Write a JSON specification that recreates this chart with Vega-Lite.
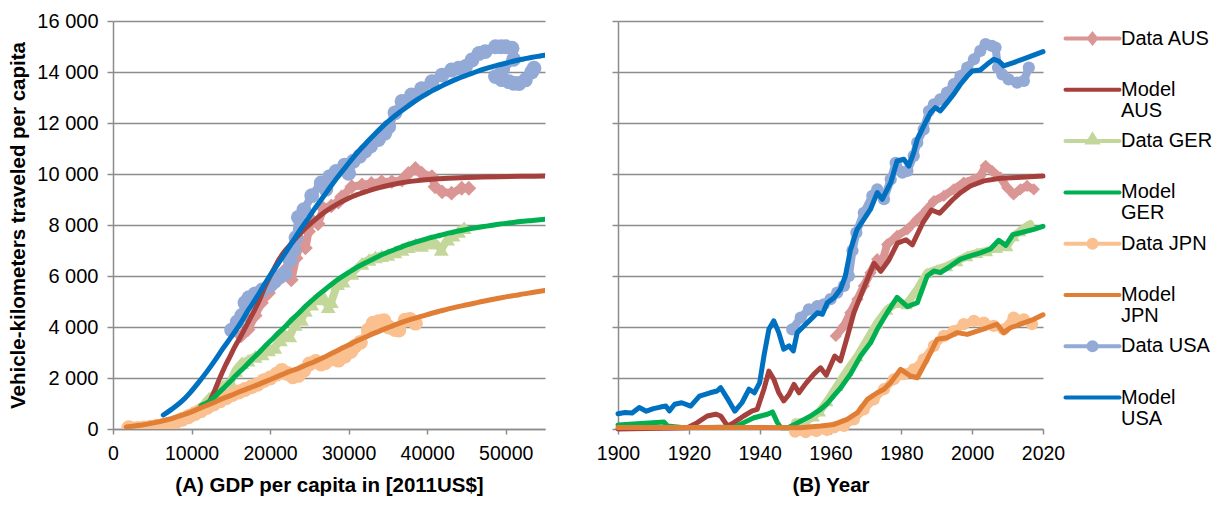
{
  "$schema": "https://vega.github.io/schema/vega-lite/v6.json",
  "padding": {"left": 8, "top": 11, "right": 5, "bottom": 5},
  "config": {
    "view": {"stroke": null},
    "font": "Liberation Sans",
    "axis": {
      "labelFont": "Liberation Sans", "titleFont": "Liberation Sans",
      "labelColor": "#000000", "titleColor": "#000000",
      "domainColor": "#8C8C8C", "domainWidth": 1.5,
      "tickColor": "#8C8C8C", "tickWidth": 1.5,
      "gridColor": "#8C8C8C", "gridWidth": 1.5, "gridOpacity": 1,
      "labelFontSize": 20, "titleFontSize": 20.5, "titleFontWeight": "bold"
    },
    "legend": {
      "title": null, "orient": "right", "offset": 10, "padding": 2,
      "labelFont": "Liberation Sans", "labelFontSize": 20, "labelColor": "#000000",
      "symbolSize": 729, "symbolStrokeWidth": 4, "labelOffset": 13, "rowPadding": 4.3, "labelLimit": 300
    }
  },
  "datasets": {
    "aData": [
      {"s":"Data AUS","i":1,"x":16300,"y":3650},{"s":"Data AUS","i":2,"x":17200,"y":3900},{"s":"Data AUS","i":3,"x":18100,"y":4450},{"s":"Data AUS","i":4,"x":18900,"y":4950},{"s":"Data AUS","i":5,"x":19800,"y":5330},{"s":"Data AUS","i":6,"x":20600,"y":5700},{"s":"Data AUS","i":7,"x":21300,"y":6000},{"s":"Data AUS","i":8,"x":21900,"y":6250},{"s":"Data AUS","i":9,"x":22700,"y":5850},{"s":"Data AUS","i":10,"x":23300,"y":6700},{"s":"Data AUS","i":11,"x":23700,"y":7150},{"s":"Data AUS","i":12,"x":24200,"y":7300},{"s":"Data AUS","i":13,"x":24500,"y":7100},{"s":"Data AUS","i":14,"x":24900,"y":7750},{"s":"Data AUS","i":15,"x":25300,"y":8200},{"s":"Data AUS","i":16,"x":26100,"y":8050},{"s":"Data AUS","i":17,"x":26800,"y":8650},{"s":"Data AUS","i":18,"x":27800,"y":8750},{"s":"Data AUS","i":19,"x":28700,"y":8900},{"s":"Data AUS","i":20,"x":29100,"y":9100},{"s":"Data AUS","i":21,"x":30400,"y":9500},{"s":"Data AUS","i":22,"x":31700,"y":9570},{"s":"Data AUS","i":23,"x":32900,"y":9630},{"s":"Data AUS","i":24,"x":34200,"y":9700},{"s":"Data AUS","i":25,"x":35500,"y":9700},{"s":"Data AUS","i":26,"x":36800,"y":9760},{"s":"Data AUS","i":27,"x":37600,"y":10020},{"s":"Data AUS","i":28,"x":38500,"y":10220},{"s":"Data AUS","i":29,"x":39300,"y":10030},{"s":"Data AUS","i":30,"x":40600,"y":9900},{"s":"Data AUS","i":31,"x":41000,"y":9500},{"s":"Data AUS","i":32,"x":41900,"y":9300},{"s":"Data AUS","i":33,"x":43100,"y":9250},{"s":"Data AUS","i":34,"x":44400,"y":9440},{"s":"Data AUS","i":35,"x":45300,"y":9440},
      {"s":"Data GER","i":1,"x":8500,"y":400},{"s":"Data GER","i":2,"x":9500,"y":550},{"s":"Data GER","i":3,"x":10500,"y":700},{"s":"Data GER","i":4,"x":11500,"y":950},{"s":"Data GER","i":5,"x":12200,"y":1200},{"s":"Data GER","i":6,"x":13000,"y":1400},{"s":"Data GER","i":7,"x":14000,"y":1700},{"s":"Data GER","i":8,"x":15000,"y":1850},{"s":"Data GER","i":9,"x":15600,"y":2300},{"s":"Data GER","i":10,"x":16400,"y":2600},{"s":"Data GER","i":11,"x":17200,"y":2700},{"s":"Data GER","i":12,"x":18100,"y":2850},{"s":"Data GER","i":13,"x":19000,"y":2950},{"s":"Data GER","i":14,"x":19800,"y":3100},{"s":"Data GER","i":15,"x":20600,"y":3200},{"s":"Data GER","i":16,"x":21300,"y":3500},{"s":"Data GER","i":17,"x":21900,"y":3700},{"s":"Data GER","i":18,"x":22500,"y":3650},{"s":"Data GER","i":19,"x":23200,"y":4100},{"s":"Data GER","i":20,"x":24000,"y":4300},{"s":"Data GER","i":21,"x":24500,"y":4650},{"s":"Data GER","i":22,"x":25300,"y":4900},{"s":"Data GER","i":23,"x":26100,"y":5100},{"s":"Data GER","i":24,"x":26700,"y":5200},{"s":"Data GER","i":25,"x":27400,"y":4800},{"s":"Data GER","i":26,"x":27800,"y":5000},{"s":"Data GER","i":27,"x":28600,"y":5700},{"s":"Data GER","i":28,"x":29300,"y":5800},{"s":"Data GER","i":29,"x":30400,"y":6100},{"s":"Data GER","i":30,"x":31700,"y":6500},{"s":"Data GER","i":31,"x":32600,"y":6650},{"s":"Data GER","i":32,"x":33400,"y":6750},{"s":"Data GER","i":33,"x":34200,"y":6800},{"s":"Data GER","i":34,"x":35000,"y":6850},{"s":"Data GER","i":35,"x":35900,"y":6950},{"s":"Data GER","i":36,"x":36800,"y":7050},{"s":"Data GER","i":37,"x":37600,"y":7150},{"s":"Data GER","i":38,"x":38500,"y":7250},{"s":"Data GER","i":39,"x":39300,"y":7200},{"s":"Data GER","i":40,"x":40100,"y":7300},{"s":"Data GER","i":41,"x":41000,"y":7300},{"s":"Data GER","i":42,"x":41800,"y":7050},{"s":"Data GER","i":43,"x":42600,"y":7450},{"s":"Data GER","i":44,"x":43300,"y":7600},{"s":"Data GER","i":45,"x":44000,"y":7750},{"s":"Data GER","i":46,"x":44700,"y":7900},
      {"s":"Data JPN","i":1,"x":2000,"y":50},{"s":"Data JPN","i":2,"x":2600,"y":0},{"s":"Data JPN","i":3,"x":3200,"y":20},{"s":"Data JPN","i":4,"x":4000,"y":40},{"s":"Data JPN","i":5,"x":4800,"y":70},{"s":"Data JPN","i":6,"x":5600,"y":110},{"s":"Data JPN","i":7,"x":6400,"y":150},{"s":"Data JPN","i":8,"x":7200,"y":200},{"s":"Data JPN","i":9,"x":8000,"y":280},{"s":"Data JPN","i":10,"x":8800,"y":380},{"s":"Data JPN","i":11,"x":9600,"y":480},{"s":"Data JPN","i":12,"x":10400,"y":600},{"s":"Data JPN","i":13,"x":11200,"y":720},{"s":"Data JPN","i":14,"x":12000,"y":850},{"s":"Data JPN","i":15,"x":12800,"y":980},{"s":"Data JPN","i":16,"x":13600,"y":1100},{"s":"Data JPN","i":17,"x":14400,"y":1230},{"s":"Data JPN","i":18,"x":15200,"y":1350},{"s":"Data JPN","i":19,"x":16000,"y":1450},{"s":"Data JPN","i":20,"x":16800,"y":1550},{"s":"Data JPN","i":21,"x":17600,"y":1650},{"s":"Data JPN","i":22,"x":18400,"y":1750},{"s":"Data JPN","i":23,"x":19200,"y":1900},{"s":"Data JPN","i":24,"x":20000,"y":2000},{"s":"Data JPN","i":25,"x":20800,"y":2150},{"s":"Data JPN","i":26,"x":21500,"y":2300},{"s":"Data JPN","i":27,"x":22200,"y":2180},{"s":"Data JPN","i":28,"x":22900,"y":2050},{"s":"Data JPN","i":29,"x":23600,"y":2100},{"s":"Data JPN","i":30,"x":24300,"y":2300},{"s":"Data JPN","i":31,"x":25000,"y":2550},{"s":"Data JPN","i":32,"x":25800,"y":2650},{"s":"Data JPN","i":33,"x":26500,"y":2550},{"s":"Data JPN","i":34,"x":27000,"y":2600},{"s":"Data JPN","i":35,"x":28000,"y":2750},{"s":"Data JPN","i":36,"x":28700,"y":2700},{"s":"Data JPN","i":37,"x":29500,"y":2850},{"s":"Data JPN","i":38,"x":30300,"y":3050},{"s":"Data JPN","i":39,"x":30800,"y":3250},{"s":"Data JPN","i":40,"x":31500,"y":3400},{"s":"Data JPN","i":41,"x":32500,"y":3880},{"s":"Data JPN","i":42,"x":33100,"y":4150},{"s":"Data JPN","i":43,"x":33800,"y":4210},{"s":"Data JPN","i":44,"x":34500,"y":4250},{"s":"Data JPN","i":45,"x":35100,"y":4000},{"s":"Data JPN","i":46,"x":35900,"y":3900},{"s":"Data JPN","i":47,"x":36400,"y":3880},{"s":"Data JPN","i":48,"x":37200,"y":4270},{"s":"Data JPN","i":49,"x":37800,"y":4300},{"s":"Data JPN","i":50,"x":38500,"y":4150},
      {"s":"Data USA","i":1,"x":15100,"y":3880},{"s":"Data USA","i":2,"x":15800,"y":4200},{"s":"Data USA","i":3,"x":16400,"y":4450},{"s":"Data USA","i":4,"x":16800,"y":4950},{"s":"Data USA","i":5,"x":17300,"y":5150},{"s":"Data USA","i":6,"x":18100,"y":5300},{"s":"Data USA","i":7,"x":19000,"y":5450},{"s":"Data USA","i":8,"x":19900,"y":5600},{"s":"Data USA","i":9,"x":20600,"y":5800},{"s":"Data USA","i":10,"x":21260,"y":5970},{"s":"Data USA","i":11,"x":21900,"y":6100},{"s":"Data USA","i":12,"x":22540,"y":6630},{"s":"Data USA","i":13,"x":23000,"y":7050},{"s":"Data USA","i":14,"x":23300,"y":7500},{"s":"Data USA","i":15,"x":23600,"y":8300},{"s":"Data USA","i":16,"x":24300,"y":8600},{"s":"Data USA","i":17,"x":25300,"y":9150},{"s":"Data USA","i":18,"x":26500,"y":9650},{"s":"Data USA","i":19,"x":27100,"y":9400},{"s":"Data USA","i":20,"x":27600,"y":9900},{"s":"Data USA","i":21,"x":28400,"y":10100},{"s":"Data USA","i":22,"x":29500,"y":10350},{"s":"Data USA","i":23,"x":30000,"y":10030},{"s":"Data USA","i":24,"x":30600,"y":10500},{"s":"Data USA","i":25,"x":31400,"y":10700},{"s":"Data USA","i":26,"x":32100,"y":10900},{"s":"Data USA","i":27,"x":32800,"y":11100},{"s":"Data USA","i":28,"x":33800,"y":11350},{"s":"Data USA","i":29,"x":34600,"y":11600},{"s":"Data USA","i":30,"x":35100,"y":11850},{"s":"Data USA","i":31,"x":35900,"y":12400},{"s":"Data USA","i":32,"x":36800,"y":12850},{"s":"Data USA","i":33,"x":38000,"y":13100},{"s":"Data USA","i":34,"x":39300,"y":13350},{"s":"Data USA","i":35,"x":40600,"y":13620},{"s":"Data USA","i":36,"x":41900,"y":13880},{"s":"Data USA","i":37,"x":43100,"y":14080},{"s":"Data USA","i":38,"x":44000,"y":14150},{"s":"Data USA","i":39,"x":44900,"y":14220},{"s":"Data USA","i":40,"x":45700,"y":14470},{"s":"Data USA","i":41,"x":46600,"y":14730},{"s":"Data USA","i":42,"x":47400,"y":14800},{"s":"Data USA","i":43,"x":48700,"y":14990},{"s":"Data USA","i":44,"x":49400,"y":14990},{"s":"Data USA","i":45,"x":50000,"y":14990},{"s":"Data USA","i":46,"x":50800,"y":14930},{"s":"Data USA","i":47,"x":51000,"y":14500},{"s":"Data USA","i":48,"x":49600,"y":14100},{"s":"Data USA","i":49,"x":48700,"y":13820},{"s":"Data USA","i":50,"x":49500,"y":13700},{"s":"Data USA","i":51,"x":50400,"y":13620},{"s":"Data USA","i":52,"x":51000,"y":13560},{"s":"Data USA","i":53,"x":51700,"y":13550},{"s":"Data USA","i":54,"x":52500,"y":13690},{"s":"Data USA","i":55,"x":53300,"y":14000},{"s":"Data USA","i":56,"x":53600,"y":14150}
    ],
    "aModel": [
      {"s":"Model AUS","x":12200,"y":1000},{"s":"Model AUS","x":12600,"y":1280},{"s":"Model AUS","x":13000,"y":1550},{"s":"Model AUS","x":13600,"y":2000},{"s":"Model AUS","x":14250,"y":2450},{"s":"Model AUS","x":14900,"y":2850},{"s":"Model AUS","x":15500,"y":3220},{"s":"Model AUS","x":16200,"y":3600},{"s":"Model AUS","x":16800,"y":3950},{"s":"Model AUS","x":17400,"y":4300},{"s":"Model AUS","x":18000,"y":4650},{"s":"Model AUS","x":18700,"y":5100},{"s":"Model AUS","x":19300,"y":5550},{"s":"Model AUS","x":20000,"y":6000},{"s":"Model AUS","x":20600,"y":6350},{"s":"Model AUS","x":21200,"y":6680},{"s":"Model AUS","x":21800,"y":6950},{"s":"Model AUS","x":22500,"y":7200},{"s":"Model AUS","x":23100,"y":7420},{"s":"Model AUS","x":23800,"y":7650},{"s":"Model AUS","x":24500,"y":7870},{"s":"Model AUS","x":25700,"y":8200},{"s":"Model AUS","x":27000,"y":8520},{"s":"Model AUS","x":28600,"y":8830},{"s":"Model AUS","x":30000,"y":9050},{"s":"Model AUS","x":31000,"y":9180},{"s":"Model AUS","x":32100,"y":9300},{"s":"Model AUS","x":33100,"y":9400},{"s":"Model AUS","x":34200,"y":9490},{"s":"Model AUS","x":35300,"y":9570},{"s":"Model AUS","x":36400,"y":9640},{"s":"Model AUS","x":38500,"y":9730},{"s":"Model AUS","x":40600,"y":9790},{"s":"Model AUS","x":42700,"y":9830},{"s":"Model AUS","x":44900,"y":9860},{"s":"Model AUS","x":47000,"y":9880},{"s":"Model AUS","x":49100,"y":9895},{"s":"Model AUS","x":52000,"y":9910},{"s":"Model AUS","x":55000,"y":9920},
      {"s":"Model GER","x":11200,"y":920},{"s":"Model GER","x":11800,"y":1000},{"s":"Model GER","x":12500,"y":1140},{"s":"Model GER","x":13400,"y":1400},{"s":"Model GER","x":14250,"y":1660},{"s":"Model GER","x":15100,"y":1920},{"s":"Model GER","x":15900,"y":2180},{"s":"Model GER","x":16800,"y":2440},{"s":"Model GER","x":17600,"y":2700},{"s":"Model GER","x":18500,"y":2970},{"s":"Model GER","x":19300,"y":3230},{"s":"Model GER","x":20200,"y":3500},{"s":"Model GER","x":21000,"y":3750},{"s":"Model GER","x":21900,"y":4010},{"s":"Model GER","x":22700,"y":4270},{"s":"Model GER","x":23600,"y":4530},{"s":"Model GER","x":24400,"y":4780},{"s":"Model GER","x":25300,"y":5030},{"s":"Model GER","x":26100,"y":5250},{"s":"Model GER","x":27000,"y":5470},{"s":"Model GER","x":27800,"y":5670},{"s":"Model GER","x":28900,"y":5920},{"s":"Model GER","x":30000,"y":6140},{"s":"Model GER","x":31000,"y":6330},{"s":"Model GER","x":32100,"y":6510},{"s":"Model GER","x":33200,"y":6680},{"s":"Model GER","x":34200,"y":6830},{"s":"Model GER","x":35300,"y":6970},{"s":"Model GER","x":36400,"y":7100},{"s":"Model GER","x":37400,"y":7220},{"s":"Model GER","x":38500,"y":7330},{"s":"Model GER","x":39600,"y":7430},{"s":"Model GER","x":40600,"y":7520},{"s":"Model GER","x":41700,"y":7600},{"s":"Model GER","x":42700,"y":7680},{"s":"Model GER","x":43800,"y":7750},{"s":"Model GER","x":44900,"y":7820},{"s":"Model GER","x":46000,"y":7880},{"s":"Model GER","x":47000,"y":7930},{"s":"Model GER","x":48100,"y":7980},{"s":"Model GER","x":49100,"y":8030},{"s":"Model GER","x":50200,"y":8070},{"s":"Model GER","x":51200,"y":8110},{"s":"Model GER","x":52300,"y":8150},{"s":"Model GER","x":53400,"y":8180},{"s":"Model GER","x":55000,"y":8230},
      {"s":"Model JPN","x":1700,"y":80},{"s":"Model JPN","x":2500,"y":110},{"s":"Model JPN","x":3500,"y":150},{"s":"Model JPN","x":4500,"y":200},{"s":"Model JPN","x":5500,"y":260},{"s":"Model JPN","x":6600,"y":340},{"s":"Model JPN","x":7600,"y":420},{"s":"Model JPN","x":8700,"y":530},{"s":"Model JPN","x":9800,"y":650},{"s":"Model JPN","x":10800,"y":780},{"s":"Model JPN","x":11900,"y":920},{"s":"Model JPN","x":13000,"y":1060},{"s":"Model JPN","x":14000,"y":1200},{"s":"Model JPN","x":15100,"y":1330},{"s":"Model JPN","x":16100,"y":1460},{"s":"Model JPN","x":17200,"y":1590},{"s":"Model JPN","x":18300,"y":1720},{"s":"Model JPN","x":19300,"y":1850},{"s":"Model JPN","x":20400,"y":1990},{"s":"Model JPN","x":21500,"y":2130},{"s":"Model JPN","x":22500,"y":2260},{"s":"Model JPN","x":23600,"y":2380},{"s":"Model JPN","x":24600,"y":2510},{"s":"Model JPN","x":25700,"y":2650},{"s":"Model JPN","x":26800,"y":2800},{"s":"Model JPN","x":27800,"y":2960},{"s":"Model JPN","x":28900,"y":3130},{"s":"Model JPN","x":30000,"y":3290},{"s":"Model JPN","x":31000,"y":3450},{"s":"Model JPN","x":32100,"y":3600},{"s":"Model JPN","x":33200,"y":3750},{"s":"Model JPN","x":34200,"y":3880},{"s":"Model JPN","x":35300,"y":4010},{"s":"Model JPN","x":36400,"y":4140},{"s":"Model JPN","x":37400,"y":4250},{"s":"Model JPN","x":38500,"y":4350},{"s":"Model JPN","x":39600,"y":4450},{"s":"Model JPN","x":40600,"y":4540},{"s":"Model JPN","x":41700,"y":4630},{"s":"Model JPN","x":42700,"y":4710},{"s":"Model JPN","x":43800,"y":4790},{"s":"Model JPN","x":44900,"y":4860},{"s":"Model JPN","x":46000,"y":4930},{"s":"Model JPN","x":47000,"y":5000},{"s":"Model JPN","x":48100,"y":5070},{"s":"Model JPN","x":49100,"y":5130},{"s":"Model JPN","x":50200,"y":5190},{"s":"Model JPN","x":51200,"y":5240},{"s":"Model JPN","x":52300,"y":5300},{"s":"Model JPN","x":53400,"y":5350},{"s":"Model JPN","x":55000,"y":5430},
      {"s":"Model USA","x":6400,"y":550},{"s":"Model USA","x":7500,"y":780},{"s":"Model USA","x":8700,"y":1070},{"s":"Model USA","x":9800,"y":1420},{"s":"Model USA","x":10800,"y":1790},{"s":"Model USA","x":12000,"y":2270},{"s":"Model USA","x":13000,"y":2700},{"s":"Model USA","x":14000,"y":3160},{"s":"Model USA","x":15100,"y":3630},{"s":"Model USA","x":16200,"y":4130},{"s":"Model USA","x":17200,"y":4650},{"s":"Model USA","x":18300,"y":5170},{"s":"Model USA","x":19300,"y":5680},{"s":"Model USA","x":20400,"y":6200},{"s":"Model USA","x":21500,"y":6700},{"s":"Model USA","x":22600,"y":7220},{"s":"Model USA","x":23600,"y":7700},{"s":"Model USA","x":24700,"y":8190},{"s":"Model USA","x":25700,"y":8650},{"s":"Model USA","x":26800,"y":9120},{"s":"Model USA","x":27800,"y":9550},{"s":"Model USA","x":28900,"y":10000},{"s":"Model USA","x":30000,"y":10420},{"s":"Model USA","x":31000,"y":10800},{"s":"Model USA","x":32100,"y":11170},{"s":"Model USA","x":33200,"y":11520},{"s":"Model USA","x":34200,"y":11830},{"s":"Model USA","x":35300,"y":12130},{"s":"Model USA","x":36400,"y":12400},{"s":"Model USA","x":37500,"y":12650},{"s":"Model USA","x":38500,"y":12870},{"s":"Model USA","x":39600,"y":13080},{"s":"Model USA","x":40600,"y":13260},{"s":"Model USA","x":41700,"y":13430},{"s":"Model USA","x":42700,"y":13580},{"s":"Model USA","x":43800,"y":13730},{"s":"Model USA","x":44900,"y":13860},{"s":"Model USA","x":46000,"y":13980},{"s":"Model USA","x":47000,"y":14090},{"s":"Model USA","x":48100,"y":14190},{"s":"Model USA","x":49100,"y":14280},{"s":"Model USA","x":50200,"y":14360},{"s":"Model USA","x":51200,"y":14440},{"s":"Model USA","x":52300,"y":14510},{"s":"Model USA","x":53400,"y":14580},{"s":"Model USA","x":54400,"y":14630},{"s":"Model USA","x":55000,"y":14660}
    ],
    "bData": [
      {"s":"Data AUS","x":1961.5,"y":3650},{"s":"Data AUS","x":1963.8,"y":4040},{"s":"Data AUS","x":1965.6,"y":4560},{"s":"Data AUS","x":1967.6,"y":5090},{"s":"Data AUS","x":1969.4,"y":5610},{"s":"Data AUS","x":1971.3,"y":6130},{"s":"Data AUS","x":1973.2,"y":6660},{"s":"Data AUS","x":1974.5,"y":6500},{"s":"Data AUS","x":1976,"y":7240},{"s":"Data AUS","x":1978.8,"y":7570},{"s":"Data AUS","x":1981.7,"y":7830},{"s":"Data AUS","x":1984.5,"y":8220},{"s":"Data AUS","x":1987.3,"y":8620},{"s":"Data AUS","x":1989.2,"y":8940},{"s":"Data AUS","x":1992,"y":9140},{"s":"Data AUS","x":1994.8,"y":9400},{"s":"Data AUS","x":1997.6,"y":9660},{"s":"Data AUS","x":2000.5,"y":9790},{"s":"Data AUS","x":2002.3,"y":9920},{"s":"Data AUS","x":2003.8,"y":10320},{"s":"Data AUS","x":2005.6,"y":10120},{"s":"Data AUS","x":2008,"y":9860},{"s":"Data AUS","x":2009.9,"y":9460},{"s":"Data AUS","x":2011.7,"y":9200},{"s":"Data AUS","x":2013.6,"y":9400},{"s":"Data AUS","x":2015.5,"y":9530},{"s":"Data AUS","x":2017.4,"y":9400},
      {"s":"Data GER","x":1950,"y":250},{"s":"Data GER","x":1953,"y":300},{"s":"Data GER","x":1955.3,"y":500},{"s":"Data GER","x":1957,"y":700},{"s":"Data GER","x":1959.1,"y":1100},{"s":"Data GER","x":1961.9,"y":1700},{"s":"Data GER","x":1964.7,"y":2300},{"s":"Data GER","x":1967.6,"y":2860},{"s":"Data GER","x":1970.4,"y":3520},{"s":"Data GER","x":1973.2,"y":4170},{"s":"Data GER","x":1976,"y":4690},{"s":"Data GER","x":1978.8,"y":4950},{"s":"Data GER","x":1981.5,"y":4900},{"s":"Data GER","x":1984.5,"y":5480},{"s":"Data GER","x":1987.3,"y":6130},{"s":"Data GER","x":1990.1,"y":6260},{"s":"Data GER","x":1992.9,"y":6390},{"s":"Data GER","x":1995.8,"y":6590},{"s":"Data GER","x":1998.6,"y":6790},{"s":"Data GER","x":2001.4,"y":6910},{"s":"Data GER","x":2004.2,"y":6980},{"s":"Data GER","x":2007,"y":7110},{"s":"Data GER","x":2009.9,"y":7180},{"s":"Data GER","x":2011.7,"y":7570},{"s":"Data GER","x":2013.6,"y":7770},{"s":"Data GER","x":2015.5,"y":7960},{"s":"Data GER","x":2016.4,"y":8030},
      {"s":"Data JPN","x":1950,"y":-100},{"s":"Data JPN","x":1953,"y":-120},{"s":"Data JPN","x":1956,"y":-80},{"s":"Data JPN","x":1959,"y":-40},{"s":"Data JPN","x":1961,"y":60},{"s":"Data JPN","x":1963.8,"y":120},{"s":"Data JPN","x":1966.6,"y":380},{"s":"Data JPN","x":1969.4,"y":770},{"s":"Data JPN","x":1972.2,"y":1160},{"s":"Data JPN","x":1975.1,"y":1560},{"s":"Data JPN","x":1977.9,"y":1950},{"s":"Data JPN","x":1980.7,"y":2150},{"s":"Data JPN","x":1983.5,"y":2340},{"s":"Data JPN","x":1986.3,"y":2730},{"s":"Data JPN","x":1989.2,"y":3260},{"s":"Data JPN","x":1992,"y":3650},{"s":"Data JPN","x":1994.8,"y":3840},{"s":"Data JPN","x":1997.6,"y":4110},{"s":"Data JPN","x":2000.5,"y":4240},{"s":"Data JPN","x":2003.3,"y":4170},{"s":"Data JPN","x":2006.1,"y":4040},{"s":"Data JPN","x":2008.9,"y":3910},{"s":"Data JPN","x":2011.7,"y":4370},{"s":"Data JPN","x":2014.6,"y":4300},{"s":"Data JPN","x":2016.9,"y":4110},
      {"s":"Data USA","x":1949.2,"y":3910},{"s":"Data USA","x":1951.6,"y":4370},{"s":"Data USA","x":1953.9,"y":4690},{"s":"Data USA","x":1956.3,"y":4820},{"s":"Data USA","x":1958.1,"y":4890},{"s":"Data USA","x":1960,"y":5090},{"s":"Data USA","x":1961.9,"y":5350},{"s":"Data USA","x":1963.8,"y":5610},{"s":"Data USA","x":1965.2,"y":6000},{"s":"Data USA","x":1966.2,"y":7000},{"s":"Data USA","x":1967.3,"y":7700},{"s":"Data USA","x":1969.4,"y":8480},{"s":"Data USA","x":1971.8,"y":9140},{"s":"Data USA","x":1973.2,"y":9400},{"s":"Data USA","x":1975.1,"y":9010},{"s":"Data USA","x":1977,"y":9790},{"s":"Data USA","x":1978.4,"y":10440},{"s":"Data USA","x":1980.3,"y":10050},{"s":"Data USA","x":1981.7,"y":10120},{"s":"Data USA","x":1983.5,"y":10710},{"s":"Data USA","x":1984.5,"y":11230},{"s":"Data USA","x":1986.3,"y":11750},{"s":"Data USA","x":1987.8,"y":12470},{"s":"Data USA","x":1989.2,"y":12730},{"s":"Data USA","x":1991,"y":12930},{"s":"Data USA","x":1992.9,"y":13190},{"s":"Data USA","x":1994.8,"y":13520},{"s":"Data USA","x":1996.7,"y":13840},{"s":"Data USA","x":1998.6,"y":14170},{"s":"Data USA","x":2000.5,"y":14500},{"s":"Data USA","x":2002.3,"y":14830},{"s":"Data USA","x":2003.8,"y":15090},{"s":"Data USA","x":2005.6,"y":15020},{"s":"Data USA","x":2006.6,"y":14960},{"s":"Data USA","x":2007.3,"y":14170},{"s":"Data USA","x":2008.5,"y":13910},{"s":"Data USA","x":2010.3,"y":13710},{"s":"Data USA","x":2012.7,"y":13580},{"s":"Data USA","x":2014.6,"y":13650},{"s":"Data USA","x":2016,"y":14170}
    ],
    "bModel": [
      {"s":"Model AUS","x":1900,"y":0},{"s":"Model AUS","x":1919.6,"y":50},{"s":"Model AUS","x":1922.4,"y":250},{"s":"Model AUS","x":1925.2,"y":510},{"s":"Model AUS","x":1927.6,"y":580},{"s":"Model AUS","x":1929,"y":510},{"s":"Model AUS","x":1930.9,"y":120},{"s":"Model AUS","x":1932.7,"y":250},{"s":"Model AUS","x":1935.5,"y":510},{"s":"Model AUS","x":1937.9,"y":710},{"s":"Model AUS","x":1939.3,"y":770},{"s":"Model AUS","x":1941.2,"y":1560},{"s":"Model AUS","x":1942.6,"y":2270},{"s":"Model AUS","x":1944,"y":1950},{"s":"Model AUS","x":1945.4,"y":1420},{"s":"Model AUS","x":1946.8,"y":1100},{"s":"Model AUS","x":1948.3,"y":1360},{"s":"Model AUS","x":1949.7,"y":1750},{"s":"Model AUS","x":1951.1,"y":1420},{"s":"Model AUS","x":1953,"y":1780},{"s":"Model AUS","x":1955.3,"y":2150},{"s":"Model AUS","x":1957.2,"y":2400},{"s":"Model AUS","x":1958.8,"y":2110},{"s":"Model AUS","x":1961.2,"y":2860},{"s":"Model AUS","x":1962.8,"y":2670},{"s":"Model AUS","x":1964.7,"y":3600},{"s":"Model AUS","x":1966.6,"y":4560},{"s":"Model AUS","x":1968.5,"y":5220},{"s":"Model AUS","x":1970.4,"y":5870},{"s":"Model AUS","x":1972.3,"y":6500},{"s":"Model AUS","x":1974.2,"y":6180},{"s":"Model AUS","x":1976.5,"y":6630},{"s":"Model AUS","x":1978.9,"y":7290},{"s":"Model AUS","x":1981.3,"y":7420},{"s":"Model AUS","x":1983.1,"y":7220},{"s":"Model AUS","x":1986,"y":8070},{"s":"Model AUS","x":1988.5,"y":8590},{"s":"Model AUS","x":1990.8,"y":8460},{"s":"Model AUS","x":1994.4,"y":8980},{"s":"Model AUS","x":1996.7,"y":9270},{"s":"Model AUS","x":1999.5,"y":9530},{"s":"Model AUS","x":2003.3,"y":9730},{"s":"Model AUS","x":2008,"y":9830},{"s":"Model AUS","x":2012.7,"y":9860},{"s":"Model AUS","x":2020,"y":9920},
      {"s":"Model GER","x":1900,"y":160},{"s":"Model GER","x":1913,"y":270},{"s":"Model GER","x":1914,"y":120},{"s":"Model GER","x":1918,"y":60},{"s":"Model GER","x":1925,"y":60},{"s":"Model GER","x":1933,"y":80},{"s":"Model GER","x":1935.5,"y":250},{"s":"Model GER","x":1938.4,"y":440},{"s":"Model GER","x":1940.3,"y":510},{"s":"Model GER","x":1942.2,"y":580},{"s":"Model GER","x":1943.6,"y":670},{"s":"Model GER","x":1945,"y":250},{"s":"Model GER","x":1946,"y":50},{"s":"Model GER","x":1948,"y":50},{"s":"Model GER","x":1951.5,"y":300},{"s":"Model GER","x":1954.4,"y":510},{"s":"Model GER","x":1957.2,"y":770},{"s":"Model GER","x":1959.1,"y":1000},{"s":"Model GER","x":1960.9,"y":1300},{"s":"Model GER","x":1962.8,"y":1600},{"s":"Model GER","x":1965.6,"y":2150},{"s":"Model GER","x":1968.5,"y":2860},{"s":"Model GER","x":1971.3,"y":3380},{"s":"Model GER","x":1973.2,"y":3910},{"s":"Model GER","x":1976,"y":4560},{"s":"Model GER","x":1978.8,"y":5160},{"s":"Model GER","x":1981.7,"y":4800},{"s":"Model GER","x":1984.5,"y":4950},{"s":"Model GER","x":1987.3,"y":6000},{"s":"Model GER","x":1989.2,"y":6200},{"s":"Model GER","x":1991,"y":6130},{"s":"Model GER","x":1993.9,"y":6390},{"s":"Model GER","x":1996.7,"y":6660},{"s":"Model GER","x":1999.5,"y":6790},{"s":"Model GER","x":2002.3,"y":6910},{"s":"Model GER","x":2005.1,"y":7050},{"s":"Model GER","x":2007.5,"y":7400},{"s":"Model GER","x":2009.5,"y":7200},{"s":"Model GER","x":2011.5,"y":7620},{"s":"Model GER","x":2017.4,"y":7830},{"s":"Model GER","x":2020,"y":7950},
      {"s":"Model JPN","x":1900,"y":60},{"s":"Model JPN","x":1920,"y":60},{"s":"Model JPN","x":1940,"y":60},{"s":"Model JPN","x":1951.5,"y":50},{"s":"Model JPN","x":1957.2,"y":120},{"s":"Model JPN","x":1961,"y":180},{"s":"Model JPN","x":1964.7,"y":380},{"s":"Model JPN","x":1967.6,"y":640},{"s":"Model JPN","x":1970.4,"y":1160},{"s":"Model JPN","x":1973.2,"y":1420},{"s":"Model JPN","x":1975.1,"y":1560},{"s":"Model JPN","x":1977,"y":1820},{"s":"Model JPN","x":1979.8,"y":2340},{"s":"Model JPN","x":1982.6,"y":2080},{"s":"Model JPN","x":1984.5,"y":2010},{"s":"Model JPN","x":1987.3,"y":2730},{"s":"Model JPN","x":1990.1,"y":3520},{"s":"Model JPN","x":1992.9,"y":3580},{"s":"Model JPN","x":1995.8,"y":3780},{"s":"Model JPN","x":1998.6,"y":3710},{"s":"Model JPN","x":2001.4,"y":3840},{"s":"Model JPN","x":2004.2,"y":3970},{"s":"Model JPN","x":2007,"y":4110},{"s":"Model JPN","x":2008.9,"y":3780},{"s":"Model JPN","x":2010.8,"y":3970},{"s":"Model JPN","x":2013.6,"y":4110},{"s":"Model JPN","x":2017.4,"y":4300},{"s":"Model JPN","x":2020,"y":4480},
      {"s":"Model USA","x":1900,"y":600},{"s":"Model USA","x":1902,"y":650},{"s":"Model USA","x":1904,"y":630},{"s":"Model USA","x":1906,"y":840},{"s":"Model USA","x":1908,"y":700},{"s":"Model USA","x":1910,"y":800},{"s":"Model USA","x":1912,"y":860},{"s":"Model USA","x":1913.5,"y":900},{"s":"Model USA","x":1914.5,"y":710},{"s":"Model USA","x":1916,"y":970},{"s":"Model USA","x":1918,"y":1030},{"s":"Model USA","x":1920.5,"y":900},{"s":"Model USA","x":1923,"y":1290},{"s":"Model USA","x":1926,"y":1420},{"s":"Model USA","x":1928,"y":1490},{"s":"Model USA","x":1929,"y":1620},{"s":"Model USA","x":1931,"y":1170},{"s":"Model USA","x":1933,"y":700},{"s":"Model USA","x":1935,"y":1030},{"s":"Model USA","x":1937,"y":1560},{"s":"Model USA","x":1938.5,"y":1420},{"s":"Model USA","x":1940,"y":1820},{"s":"Model USA","x":1941.2,"y":2860},{"s":"Model USA","x":1942.6,"y":3910},{"s":"Model USA","x":1944,"y":4240},{"s":"Model USA","x":1945.4,"y":3780},{"s":"Model USA","x":1946.8,"y":3130},{"s":"Model USA","x":1948.3,"y":3260},{"s":"Model USA","x":1949.5,"y":3060},{"s":"Model USA","x":1950.6,"y":3780},{"s":"Model USA","x":1952.5,"y":4040},{"s":"Model USA","x":1954.4,"y":4300},{"s":"Model USA","x":1956.3,"y":4560},{"s":"Model USA","x":1957.7,"y":4500},{"s":"Model USA","x":1959.1,"y":4950},{"s":"Model USA","x":1961,"y":5150},{"s":"Model USA","x":1962.8,"y":5480},{"s":"Model USA","x":1964.2,"y":6000},{"s":"Model USA","x":1965.6,"y":7000},{"s":"Model USA","x":1967.5,"y":7830},{"s":"Model USA","x":1969.4,"y":8220},{"s":"Model USA","x":1971.3,"y":8620},{"s":"Model USA","x":1973.2,"y":9270},{"s":"Model USA","x":1974.6,"y":9010},{"s":"Model USA","x":1977,"y":9660},{"s":"Model USA","x":1978.8,"y":10510},{"s":"Model USA","x":1980.7,"y":10580},{"s":"Model USA","x":1982.1,"y":10310},{"s":"Model USA","x":1983.5,"y":10840},{"s":"Model USA","x":1984.5,"y":11360},{"s":"Model USA","x":1986.3,"y":11880},{"s":"Model USA","x":1988.2,"y":12400},{"s":"Model USA","x":1989.6,"y":12600},{"s":"Model USA","x":1991,"y":12470},{"s":"Model USA","x":1992.9,"y":12800},{"s":"Model USA","x":1994.8,"y":13130},{"s":"Model USA","x":1996.7,"y":13520},{"s":"Model USA","x":1998.6,"y":13840},{"s":"Model USA","x":2000,"y":14040},{"s":"Model USA","x":2002.3,"y":14080},{"s":"Model USA","x":2004.2,"y":14300},{"s":"Model USA","x":2006.1,"y":14500},{"s":"Model USA","x":2007.5,"y":14430},{"s":"Model USA","x":2008.9,"y":14240},{"s":"Model USA","x":2011.7,"y":14370},{"s":"Model USA","x":2015.5,"y":14560},{"s":"Model USA","x":2020,"y":14800}
    ]
  },
  "spacing": 51,
  "hconcat": [
    {
      "width": 432, "height": 408,
      "encoding": {
        "x": {"field": "x", "type": "quantitative", "scale": {"domain": [0, 55000], "nice": false},
              "axis": {"title": "(A) GDP per capita in [2011US$]", "values": [0, 10000, 20000, 30000, 40000, 50000], "format": "d", "grid": false, "tickSize": 5, "labelPadding": 10, "titlePadding": 13, "labelFontSize": 19.5, "labelFlush": false}},
        "y": {"field": "y", "type": "quantitative", "scale": {"domain": [0, 16000], "nice": false},
              "axis": {"title": "Vehicle-kilometers traveled per capita", "values": [0, 2000, 4000, 6000, 8000, 10000, 12000, 14000, 16000], "labelExpr": "replace(format(datum.value, ',d'), ',', ' ')", "grid": true, "tickSize": 6, "labelPadding": 9, "titlePadding": 8}},
        "color": {"field": "s", "type": "nominal",
                  "scale": {"domain": ["Data AUS", "Model AUS", "Data GER", "Model GER", "Data JPN", "Model JPN", "Data USA", "Model USA"],
                            "range": ["#DA9694", "#A5403C", "#C4D79B", "#00B050", "#FAC090", "#E07E35", "#93AAD6", "#0070C0"]},
                  "legend": {
                    "labelExpr": "indexof(datum.label, 'Model') == 0 ? split(datum.label, ' ') : [datum.label, '']",
                    "encode": {
                      "labels": {"update": {"lineHeight": {"value": 21}}},
                      "symbols": {"update": {
                        "shape": {"signal": "datum.value == 'Data AUS' ? 'M-2,0H2M0,-0.32L0.26,0L0,0.32L-0.26,0Z' : datum.value == 'Data GER' ? 'M-2,0H2M0,-0.45L0.34,0.1L-0.34,0.1Z' : (datum.value == 'Data JPN' || datum.value == 'Data USA') ? 'M-2,0H2M-0.3,0A0.3,0.3 0 1,0 0.3,0A0.3,0.3 0 1,0 -0.3,0Z' : 'M-2,0H2'"},
                        "stroke": {"signal": "scale('color', datum.value)"},
                        "fill": {"signal": "scale('color', datum.value)"},
                        "strokeWidth": {"value": 4},
                        "size": {"value": 729},
                        "opacity": {"value": 1},
                        "strokeCap": {"value": "round"}
                      }}
                    }
                  }}
      },
      "layer": [
        {"data": {"name": "aData"}, "mark": {"type": "line", "strokeWidth": 8, "strokeJoin": "round", "strokeCap": "round", "clip": true},
         "encoding": {"order": {"field": "i", "type": "quantitative"}}},
        {"data": {"name": "aData"}, "mark": {"type": "point", "filled": true, "opacity": 1, "size": 220, "clip": true},
         "encoding": {"shape": {"field": "s", "type": "nominal", "scale": {"domain": ["Data AUS", "Data GER", "Data JPN", "Data USA"], "range": ["diamond", "triangle-up", "circle", "circle"]}, "legend": null}}},
        {"data": {"name": "aModel"}, "mark": {"type": "line", "strokeWidth": 5, "interpolate": "monotone", "strokeCap": "round", "clip": true}, "encoding": {}}
      ]
    },
    {
      "width": 425, "height": 408,
      "encoding": {
        "x": {"field": "x", "type": "quantitative", "scale": {"domain": [1900, 2020], "nice": false},
              "axis": {"title": "(B) Year", "values": [1900, 1920, 1940, 1960, 1980, 2000, 2020], "format": "d", "grid": false, "tickSize": 5, "labelPadding": 10, "titlePadding": 13, "labelFontSize": 19.5, "labelFlush": false}},
        "y": {"field": "y", "type": "quantitative", "scale": {"domain": [0, 16000], "nice": false},
              "axis": {"title": null, "labels": false, "values": [0, 2000, 4000, 6000, 8000, 10000, 12000, 14000, 16000], "grid": true, "tickSize": 6}},
        "color": {"field": "s", "type": "nominal",
                  "scale": {"domain": ["Data AUS", "Model AUS", "Data GER", "Model GER", "Data JPN", "Model JPN", "Data USA", "Model USA"],
                            "range": ["#DA9694", "#A5403C", "#C4D79B", "#00B050", "#FAC090", "#E07E35", "#93AAD6", "#0070C0"]}}
      },
      "layer": [
        {"data": {"name": "bData"}, "mark": {"type": "line", "strokeWidth": 8, "strokeJoin": "round", "strokeCap": "round"}, "encoding": {}},
        {"data": {"name": "bData"}, "mark": {"type": "point", "filled": true, "opacity": 1, "size": 150},
         "encoding": {"shape": {"field": "s", "type": "nominal", "scale": {"domain": ["Data AUS", "Data GER", "Data JPN", "Data USA"], "range": ["diamond", "triangle-up", "circle", "circle"]}, "legend": null}}},
        {"data": {"name": "bModel"}, "mark": {"type": "line", "strokeWidth": 5, "strokeJoin": "round", "strokeCap": "round"}, "encoding": {}}
      ]
    }
  ]
}
